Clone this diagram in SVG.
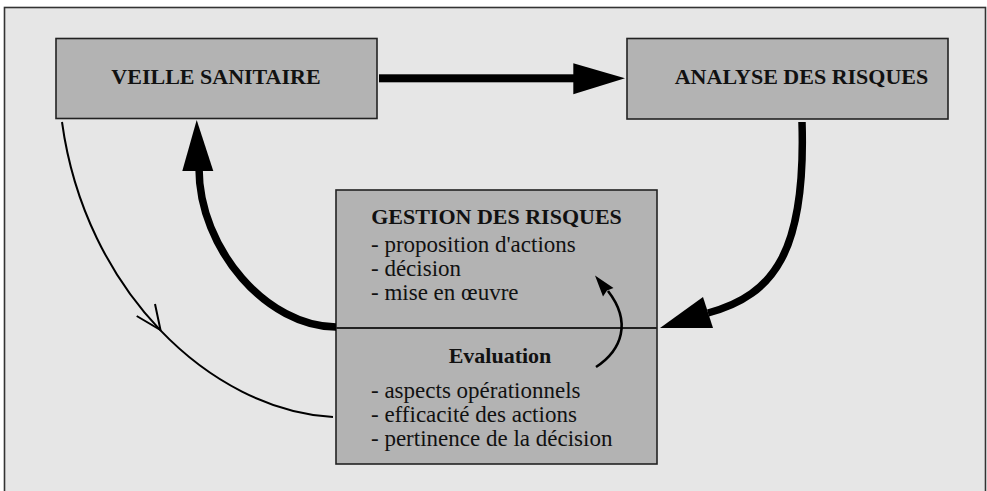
<svg xmlns="http://www.w3.org/2000/svg" width="987" height="491" viewBox="0 0 987 491">
  <style>
    .box { fill: #b3b3b3; stroke: #222; stroke-width: 1.6; }
    .title { font-family: "Liberation Serif", "Times New Roman", serif; font-weight: bold; font-size: 22px; fill: #111; }
    .item { font-family: "Liberation Serif", "Times New Roman", serif; font-size: 23px; fill: #111; }
    .thick { fill: none; stroke: #000; stroke-width: 7.5; }
    .thin { fill: none; stroke: #000; stroke-width: 2; }
    .head { fill: #000; stroke: none; }
  </style>
  <rect x="0" y="0" width="987" height="491" fill="#ffffff"/>
  <rect x="4.5" y="7.5" width="981" height="500" fill="#e6e6e6" stroke="#333" stroke-width="1.6"/>

  <g id="veille">
    <rect class="box" x="56" y="38.5" width="321" height="80"/>
    <text class="title" x="216" y="84" text-anchor="middle">VEILLE SANITAIRE</text>
  </g>

  <g id="analyse">
    <rect class="box" x="627" y="38.5" width="321" height="80.5"/>
    <text class="title" x="801.5" y="84" text-anchor="middle">ANALYSE DES RISQUES</text>
  </g>

  <g id="gestion">
    <rect class="box" x="336" y="190" width="321" height="274"/>
    <line x1="336" y1="328" x2="657" y2="328" stroke="#222" stroke-width="2"/>
    <text class="title" x="496.5" y="224" text-anchor="middle">GESTION DES RISQUES</text>
    <text class="item" x="371" y="252">- proposition d'actions</text>
    <text class="item" x="371" y="276">- décision</text>
    <text class="item" x="371" y="300">- mise en œuvre</text>
    <text class="title" x="500" y="363" text-anchor="middle">Evaluation</text>
    <text class="item" x="371" y="398">- aspects opérationnels</text>
    <text class="item" x="371" y="422">- efficacité des actions</text>
    <text class="item" x="371" y="446">- pertinence de la décision</text>
  </g>

  <g id="connectors">
    <rect x="379" y="74.3" width="196" height="8" fill="#000"/>
    <polygon class="head" points="573.3,63.3 625,78.3 573.3,94.3"/>

    <path class="thick" d="M802,122 C806,250 775,295 708,313"/>
    <polygon class="head" points="660,328 703,297 713,328"/>

    <path class="thick" d="M336,327 C268,327 199,250 199,168"/>
    <polygon class="head" points="196.7,120 182.3,171 213.3,171"/>

    <path class="thin" d="M62,122 C85,290 210,410 333,417"/>
    <polyline class="thin" points="136.7,316 160.5,330 155,304"/>

    <path fill="none" stroke="#000" stroke-width="2.6" d="M596,367 C622,350 632,322 608,291"/>
    <polygon class="head" points="595,275.5 613.5,288 607,290.5 603,296.5"/>
  </g>
</svg>
